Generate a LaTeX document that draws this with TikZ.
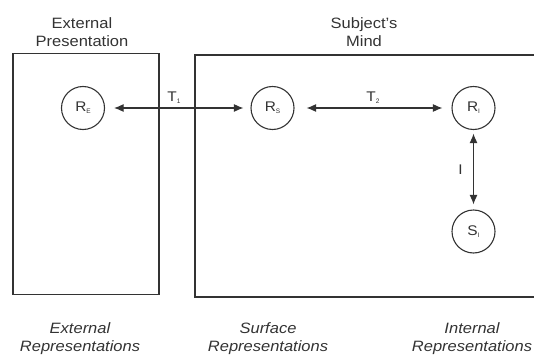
\documentclass[tikz,border=0pt]{standalone}
\usepackage{fontspec}
\setmainfont{Liberation Sans}
\usetikzlibrary{arrows.meta}
\definecolor{ink}{HTML}{333333}
\newcommand\wdtxt[1]{\scalebox{1.1}[1]{#1}}
\newcommand\sbs[1]{\raisebox{-2.2pt}{\fontsize{6.5}{6.5}\selectfont #1}}
\tikzset{
  frame/.style={draw=ink, line width=1.2pt},
  state/.style={circle, draw=ink, line width=1.1pt, minimum size=43pt, inner sep=0pt, text=ink, font=\fontsize{14}{14}\selectfont},
  title/.style={align=center, text=ink, font=\fontsize{15}{18}\selectfont, inner sep=0pt},
  caption/.style={align=center, text=ink, font=\fontsize{15}{18}\selectfont\itshape, inner sep=0pt},
  lbl/.style={text=ink, font=\fontsize{14}{14}\selectfont, inner sep=0pt},
  link/.style={draw=ink, line width=1.1pt, {Latex[length=9.5pt,width=8pt]}-{Latex[length=9.5pt,width=8pt]}}
}
\begin{document}
\begin{tikzpicture}[x=1pt,y=-1pt]
\useasboundingbox (0,0) rectangle (534,358);
\clip (0,0) rectangle (534,358);
% boxes
\draw[frame] (13,53.5) rectangle (159,294.5);
\draw[frame] (537,55) -- (195,55) -- (195,297) -- (537,297);
% titles
\node[title] (t1) at (82,32) {\wdtxt{External}\\\wdtxt{Presentation}};
\node[title] (t2) at (364,32) {\wdtxt{Subject's}\\\wdtxt{Mind}};
% states
\node[state] (RE) at (83,108) {\wdtxt{R}\sbs{E}};
\node[state] (RS) at (272.5,108) {\wdtxt{R}\sbs{S}};
\node[state] (RI) at (473.5,108) {\wdtxt{R}\sbs{I}};
\node[state] (SI) at (473.5,231.5) {\wdtxt{S}\sbs{I}};
% connectors
\draw[link, shorten <=9pt, shorten >=7pt] (RE) -- (RS);
\draw[link, shorten <=12pt, shorten >=9pt] (RS) -- (RI);
\draw[link, shorten <=3.5pt, shorten >=5pt] (RI) -- (SI);
% connector labels
\node[lbl] (l1) at (174,98) {\wdtxt{T}\sbs{1}};
\node[lbl] (l2) at (373,98) {\wdtxt{T}\sbs{2}};
\node[lbl] (l3) at (460.5,170) {\wdtxt{I}};
% captions
\node[caption] (c1) at (80,339) {\wdtxt{External}\\\wdtxt{Representations}};
\node[caption] (c2) at (268,339) {\wdtxt{Surface}\\\wdtxt{Representations}};
\node[caption] (c3) at (472,339) {\wdtxt{Internal}\\\wdtxt{Representations}};
\end{tikzpicture}
\end{document}
